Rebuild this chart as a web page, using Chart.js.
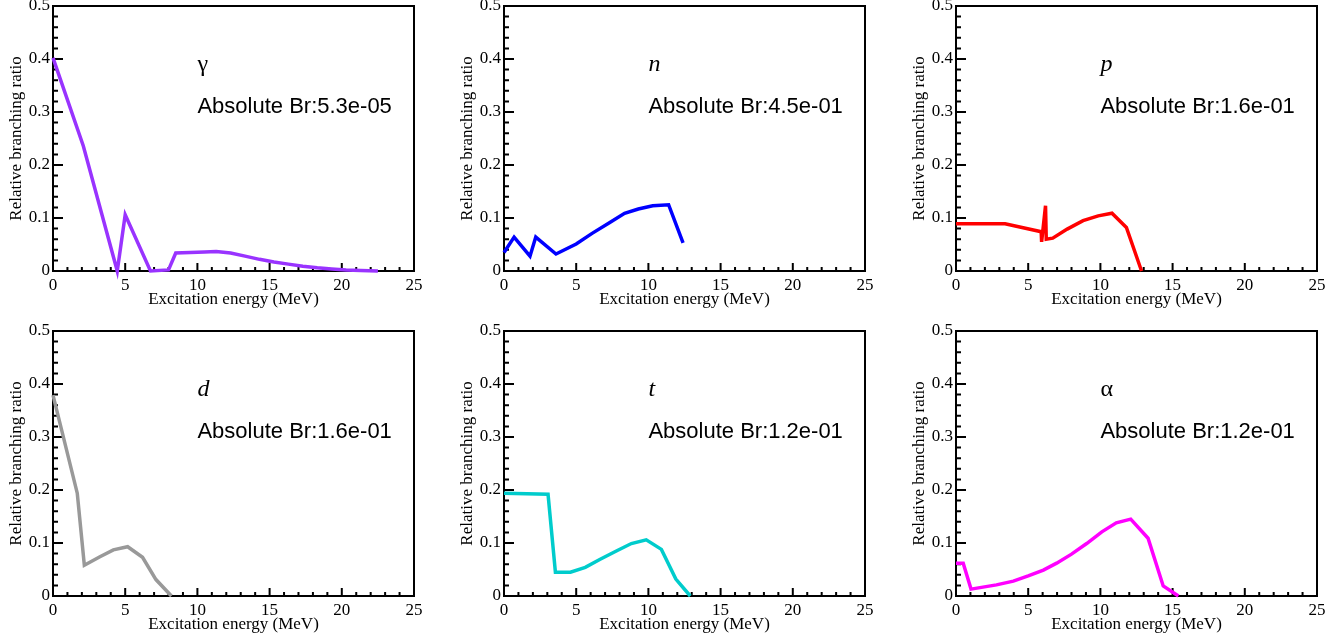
<!DOCTYPE html>
<html>
<head>
<meta charset="utf-8">
<script src="https://cdn.jsdelivr.net/npm/chart.js@4.4.0/dist/chart.umd.min.js"></script>
<style>
  body { margin: 0; background: #fff; }
  canvas { position: absolute; }
</style>
</head>
<body>
<canvas id="c0" width="441" height="316" style="left:0px;top:0px"></canvas>
<canvas id="c1" width="441" height="316" style="left:451px;top:0px"></canvas>
<canvas id="c2" width="441" height="316" style="left:903px;top:0px"></canvas>
<canvas id="c3" width="441" height="326" style="left:0px;top:315px"></canvas>
<canvas id="c4" width="441" height="326" style="left:451px;top:315px"></canvas>
<canvas id="c5" width="441" height="326" style="left:903px;top:315px"></canvas>
<script>
// excitation energy (MeV) vs relative branching ratio, one pair per decay channel
const gammaE  = [0, 2.1, 4.45, 5.0, 6.75, 8.0, 8.5, 9.5, 10.5, 11.3, 12.3, 13.3, 14.3, 15.3, 16.3, 17.3, 18.3, 19.3, 20.3, 21.3, 22.5];
const gammaBr = [0.402, 0.236, 0.0, 0.106, 0.0, 0.002, 0.034, 0.035, 0.036, 0.037, 0.034, 0.028, 0.022, 0.017, 0.013, 0.009, 0.006, 0.004, 0.002, 0.001, 0.0];

const neutronE  = [0, 0.7, 1.8, 2.2, 3.6, 5.0, 6.1, 7.3, 8.35, 9.3, 10.3, 11.4, 12.4];
const neutronBr = [0.035, 0.064, 0.028, 0.064, 0.032, 0.051, 0.071, 0.091, 0.109, 0.117, 0.123, 0.125, 0.053];

const protonE  = [0, 3.4, 5.9, 5.93, 6.2, 6.25, 6.7, 7.7, 8.8, 9.85, 10.8, 11.8, 12.85];
const protonBr = [0.089, 0.089, 0.074, 0.055, 0.123, 0.06, 0.062, 0.079, 0.095, 0.104, 0.109, 0.082, 0.0];

const deuteronE  = [0, 1.68, 2.17, 3.25, 4.18, 5.17, 6.2, 7.13, 8.2];
const deuteronBr = [0.379, 0.194, 0.058, 0.074, 0.087, 0.093, 0.073, 0.031, 0.0];

const tritonE  = [0, 3.05, 3.56, 4.6, 5.63, 6.63, 7.78, 8.82, 9.85, 10.9, 11.9, 12.9];
const tritonBr = [0.194, 0.192, 0.045, 0.045, 0.054, 0.069, 0.085, 0.099, 0.106, 0.088, 0.032, 0.0];

const alphaE  = [0, 0.5, 1.04, 2.8, 3.97, 5.0, 6.05, 6.97, 8.0, 9.05, 10.1, 11.1, 12.1, 13.3, 14.35, 15.4];
const alphaBr = [0.062, 0.062, 0.013, 0.021, 0.028, 0.038, 0.049, 0.062, 0.079, 0.099, 0.121, 0.138, 0.145, 0.109, 0.019, 0.0];

const channels   = ['γ', 'n', 'p', 'd', 't', 'α'];
const italicName = [false, true, true, true, true, false];
const absoluteBr = ['5.3e-05', '4.5e-01', '1.6e-01', '1.6e-01', '1.2e-01', '1.2e-01'];
const lineColors = ['#9933ff', '#0000ff', '#ff0000', '#999999', '#00cccc', '#ff00ff'];
const energies   = [gammaE, neutronE, protonE, deuteronE, tritonE, alphaE];
const ratios     = [gammaBr, neutronBr, protonBr, deuteronBr, tritonBr, alphaBr];

const SERIF = '"Liberation Serif", "Times New Roman", serif';
const SANS = '"Liberation Sans", Arial, sans-serif';

// box frame, inward ticks and the channel annotation
const framePlugin = {
  id: 'frame',
  beforeDatasetsDraw(chart, args, opts) {
    const { ctx, chartArea: a, scales: { x, y } } = chart;
    ctx.save();
    ctx.strokeStyle = '#000';
    ctx.lineWidth = 2;
    ctx.beginPath();
    for (let v = 0; v <= 25; v++) {
      const px = x.getPixelForValue(v);
      const len = v % 5 === 0 ? 8 : 4;
      ctx.moveTo(px, a.bottom);
      ctx.lineTo(px, a.bottom - len);
    }
    for (let i = 0; i <= 25; i++) {
      const py = y.getPixelForValue(i * 0.02);
      const len = i % 5 === 0 ? 10 : 5;
      ctx.moveTo(a.left, py);
      ctx.lineTo(a.left + len, py);
    }
    ctx.stroke();
    ctx.strokeRect(a.left, a.top, a.right - a.left, a.bottom - a.top);

    ctx.fillStyle = '#000';
    ctx.textAlign = 'left';
    ctx.textBaseline = 'alphabetic';
    const tx = x.getPixelForValue(10);
    ctx.font = (opts.italic ? 'italic ' : '') + '24px ' + SERIF;
    ctx.fillText(opts.name, tx, y.getPixelForValue(0.377));
    ctx.font = '22px ' + SANS;
    ctx.fillText('Absolute Br:' + opts.br, tx, y.getPixelForValue(0.299));
    ctx.restore();
  }
};

const tickFont = { family: SERIF, size: 17 };

channels.forEach((name, i) => {
  const points = energies[i].map((e, k) => ({ x: e, y: ratios[i][k] }));
  // bottom row canvases start a little higher so the top tick label is not cut
  const topPad = i < 3 ? 6 : 16;
  new Chart(document.getElementById('c' + i), {
    type: 'line',
    data: {
      datasets: [{
        data: points,
        borderColor: lineColors[i],
        borderWidth: 3.5,
        borderJoinStyle: 'miter',
        pointRadius: 0,
        tension: 0,
        fill: false,
        clip: false
      }]
    },
    plugins: [framePlugin],
    options: {
      responsive: false,
      animation: false,
      devicePixelRatio: 1,
      layout: { padding: { left: 0, right: 27, top: topPad, bottom: 0 } },
      plugins: {
        legend: { display: false },
        tooltip: { enabled: false },
        frame: { name: name, italic: italicName[i], br: absoluteBr[i] }
      },
      scales: {
        x: {
          type: 'linear',
          min: 0,
          max: 25,
          grid: { display: false, drawTicks: false },
          border: { display: false },
          ticks: { stepSize: 5, color: '#000', font: tickFont, padding: 4, maxRotation: 0 },
          title: {
            display: true,
            text: 'Excitation energy (MeV)',
            color: '#000',
            font: { family: SERIF, size: 17 },
            padding: { top: 0, bottom: 6 }
          },
          afterFit: s => { s.height = 45; s.paddingLeft = 0; s.paddingRight = 0; }
        },
        y: {
          type: 'linear',
          min: 0,
          max: 0.5,
          grid: { display: false, drawTicks: false },
          border: { display: false },
          ticks: { stepSize: 0.1, color: '#000', font: tickFont, padding: 3 },
          title: {
            display: true,
            text: 'Relative branching ratio',
            color: '#000',
            font: { family: SERIF, size: 17 },
            padding: { top: 6, bottom: 0 }
          },
          afterFit: s => { s.width = 53; s.paddingTop = 0; s.paddingBottom = 0; }
        }
      }
    }
  });
});
</script>
</body>
</html>
